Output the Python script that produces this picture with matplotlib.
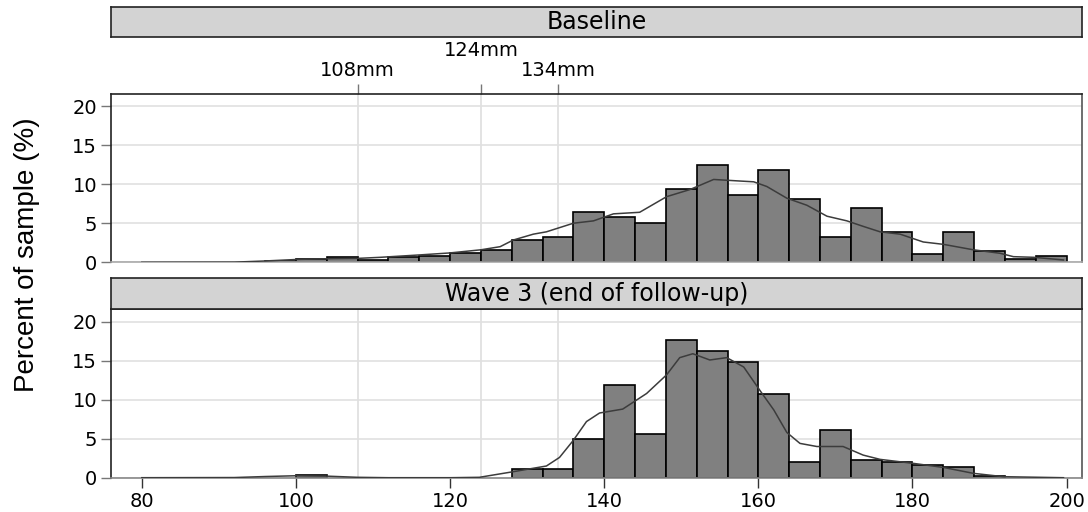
import numpy as np
import matplotlib
matplotlib.use("Agg")
import matplotlib.pyplot as plt

# histogram bins (lower edges, width 4)
edges_base = [96, 100, 104, 108, 112, 116, 120, 124, 128, 132, 136, 140, 144, 148,
              152, 156, 160, 164, 168, 172, 176, 180, 184, 188, 192, 196]
pct_base = [0.2, 0.47, 0.72, 0.3, 0.64, 0.8, 1.2, 1.57, 2.9, 3.3, 6.5, 5.8, 5.0, 9.4,
            12.4, 8.6, 11.8, 8.1, 3.3, 6.9, 3.9, 1.0, 3.9, 1.4, 0.43, 0.85]

edges_w3 = [100, 128, 132, 136, 140, 144, 148, 152, 156, 160, 164, 168, 172, 176,
            180, 184, 188]
pct_w3 = [0.3, 1.15, 1.15, 5.0, 11.9, 5.6, 17.6, 16.2, 14.8, 10.8, 2.05, 6.1, 2.26, 2.05,
          1.67, 1.37, 0.25]

# density curves
kx_base = [80, 92, 96, 100.5, 105, 108, 111, 116, 120, 124, 126.5, 128.2, 130.8, 132.5,
           136, 138.6, 141.2, 144.6, 148.1, 151.1, 154.2, 155.9, 157.6, 159.4, 161.1,
           163.7, 166.3, 168.9, 171.5, 173.6, 175.8, 178.4, 181.4, 184, 187.9, 191.4,
           193.1, 195.7, 199.6]
ky_base = [0, 0.02, 0.17, 0.38, 0.47, 0.5, 0.64, 0.94, 1.2, 1.6, 2.0, 2.85, 3.6, 3.9,
           5.0, 5.3, 6.2, 6.4, 8.4, 9.3, 10.6, 10.5, 10.4, 10.3, 9.7,
           8.2, 7.3, 5.9, 5.3, 4.6, 3.9, 3.6, 2.6, 2.3, 1.6, 1.15,
           0.72, 0.64, 0.3]

kx_w3 = [80, 92, 96, 100, 104, 108, 112, 120, 123.8, 128.2, 132.5, 134.2, 136, 137.7,
         139.4, 142.4, 145.5, 148.1, 149.8, 151.5, 153.7, 155.9, 158.1, 160.2, 162,
         163.7, 165.4, 167.6, 171, 173.6, 175.8, 180.1, 184, 187.9, 191.8, 199.6]
ky_w3 = [0, 0.02, 0.15, 0.25, 0.2, 0.05, 0.0, 0.0, 0.05, 0.77, 1.5, 2.6, 4.8, 7.2,
         8.3, 8.8, 10.8, 13.2, 15.4, 15.9, 15.1, 15.4, 14.2, 11.2, 8.7,
         5.8, 4.4, 4.0, 4.0, 2.9, 2.35, 1.84, 1.32, 0.56, 0.13, 0.0]

panels = ["Baseline", "Wave 3 (end of follow-up)"]
ref_lines = [108, 124, 134]
ref_labels = ["108mm", "124mm", "134mm"]
xticks = [80, 100, 120, 140, 160, 180, 200]
yticks = [0, 5, 10, 15, 20]

plt.rcParams['font.family'] = ['DejaVu Sans']

W, H = 1088, 512
fig = plt.figure(figsize=(W / 100, H / 100), dpi=100)

def frac(x0, y0, x1, y1):
    return [x0 / W, 1 - y1 / H, (x1 - x0) / W, (y1 - y0) / H]

ax1 = fig.add_axes(frac(111, 93.5, 1082, 262.3))
ax2 = fig.add_axes(frac(111, 309.3, 1082, 477.7))
strip1 = fig.add_axes(frac(111, 7.3, 1082, 37.3))
strip2 = fig.add_axes(frac(111, 278.3, 1082, 309.3))

data = [(edges_base, pct_base, kx_base, ky_base), (edges_w3, pct_w3, kx_w3, ky_w3)]

for ax, (e, p, kx, ky) in zip([ax1, ax2], data):
    ax.set_xlim(76, 202)
    ax.set_ylim(0, 21.6)
    for y in yticks:
        ax.axhline(y, color='#e3e3e3', lw=1.3, zorder=0)
    for x in ref_lines:
        ax.axvline(x, color='#e0e0e0', lw=1.3, zorder=0)
    ax.bar(e, p, width=4, align='edge', color='#808080', edgecolor='black',
           linewidth=1.2, zorder=2)
    ax.plot(kx, ky, color='#3c3c3c', lw=1.1, zorder=3)
    ax.set_yticks(yticks)
    ax.tick_params(axis='y', direction='out', length=7, width=1, color='#777777',
                   labelsize=14, pad=3)
    for s in ['left', 'top']:
        ax.spines[s].set_color('#222222')
        ax.spines[s].set_linewidth(1.2)
    ax.spines['right'].set_color('#555555')
    ax.spines['right'].set_linewidth(1.2)
    ax.spines['bottom'].set_color('#aaaaaa')
    ax.spines['bottom'].set_linewidth(1.2)

# top axis of the first panel: reference values
ax1.xaxis.tick_top()
ax1.set_xticks([108, 134])
ax1.set_xticklabels([ref_labels[0], ref_labels[2]])
ax1.set_xticks([124], minor=True)
ax1.set_xticklabels([ref_labels[1]], minor=True)
ax1.tick_params(axis='x', which='both', direction='out', length=7, width=1,
                color='#777777', labelsize=14)
ax1.tick_params(axis='x', which='major', pad=3)
ax1.tick_params(axis='x', which='minor', pad=17)

ax2.set_xticks(xticks)
ax2.tick_params(axis='x', direction='out', length=7, width=1, color='#333333',
                labelsize=14, pad=3)
ax2.spines['bottom'].set_color('#888888')

for st, title in zip([strip1, strip2], panels):
    st.set_facecolor('#d3d3d3')
    st.set_xticks([])
    st.set_yticks([])
    for s in st.spines.values():
        s.set_color('#222222')
        s.set_linewidth(1.2)
    st.text(0.5, 0.5, title, ha='center', va='center', fontsize=17,
            transform=st.transAxes)

fig.text(27 / W, 1 - 255 / H, "Percent of sample (%)", rotation=90, ha='center',
         va='center', fontsize=20, family=['Liberation Sans Narrow', 'Liberation Sans'])

fig.savefig("out.png", dpi=100)
